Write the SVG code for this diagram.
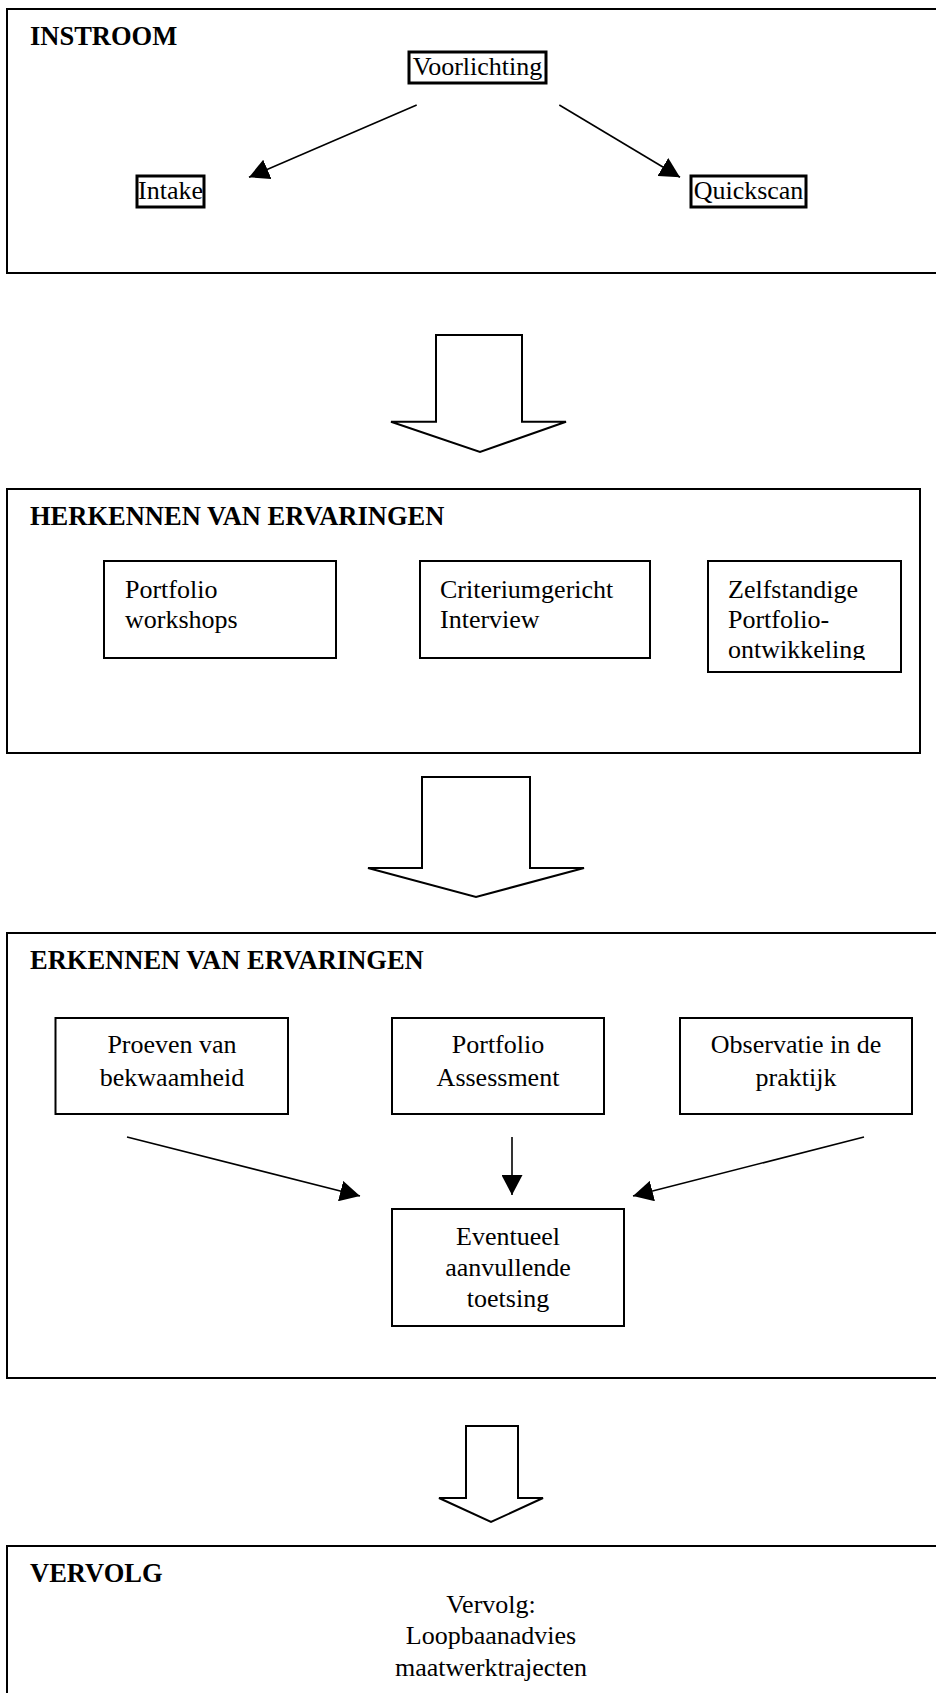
<svg xmlns="http://www.w3.org/2000/svg" width="936" height="1693" viewBox="0 0 936 1693">
<style>
.frame{fill:none;stroke:#000;stroke-width:2}
.box{fill:#fff;stroke:#000;stroke-width:2}
.tbox{fill:#fff;stroke:#000;stroke-width:3}
.title{font-family:"Liberation Serif","Times New Roman",serif;font-weight:bold;font-size:26.5px;fill:#000}
.t{font-family:"Liberation Serif","Times New Roman",serif;font-size:26px;fill:#000}
.c{text-anchor:middle}
.conn{fill:none;stroke:#000;stroke-width:1.6}
.block{fill:#fff;stroke:#000;stroke-width:2;stroke-linejoin:miter}
</style>
<defs>
<marker id="ah" viewBox="0 0 20 21" refX="20" refY="10.5" markerWidth="20" markerHeight="21" markerUnits="userSpaceOnUse" orient="auto">
<path d="M0,0 L20,10.5 L0,21 Z" fill="#000"/>
</marker>
<clipPath id="clipZ"><rect x="708" y="561" width="193" height="99"/></clipPath>
</defs>
<rect width="936" height="1693" fill="#fff"/>

<g id="instroom">
<rect class="frame" x="7" y="9" width="940" height="264"/>
<text class="title" x="30" y="45">INSTROOM</text>
</g>
<g id="voorlichting">
<rect class="tbox" x="409" y="52" width="137" height="31"/>
<text class="t c" x="477.5" y="75">Voorlichting</text>
</g>
<g id="intake">
<rect class="tbox" x="137" y="176" width="67" height="31"/>
<text class="t c" x="170.5" y="199">Intake</text>
</g>
<g id="quickscan">
<rect class="tbox" x="691" y="176" width="115" height="31"/>
<text class="t c" x="748.5" y="199">Quickscan</text>
</g>

<g id="herkennen">
<rect class="frame" x="7" y="489" width="913" height="264"/>
<text class="title" x="30" y="525">HERKENNEN VAN ERVARINGEN</text>
</g>
<g id="portfolio-workshops">
<rect class="box" x="104" y="561" width="232" height="97"/>
<text class="t" x="125" y="598">Portfolio</text>
<text class="t" x="125" y="628">workshops</text>
</g>
<g id="criteriumgericht">
<rect class="box" x="420" y="561" width="230" height="97"/>
<text class="t" x="440" y="598">Criteriumgericht</text>
<text class="t" x="440" y="628">Interview</text>
</g>
<g id="zelfstandige">
<rect class="box" x="708" y="561" width="193" height="111"/>
<g clip-path="url(#clipZ)">
<text class="t" x="728" y="598">Zelfstandige</text>
<text class="t" x="728" y="628">Portfolio-</text>
<text class="t" x="728" y="658">ontwikkeling</text>
</g>
</g>

<g id="erkennen">
<rect class="frame" x="7" y="933" width="940" height="445"/>
<text class="title" x="30" y="969">ERKENNEN VAN ERVARINGEN</text>
</g>
<g id="proeven">
<rect class="box" x="55.5" y="1018" width="232.5" height="96"/>
<text class="t c" x="172" y="1053">Proeven van</text>
<text class="t c" x="172" y="1086">bekwaamheid</text>
</g>
<g id="portfolio-assessment">
<rect class="box" x="392" y="1018" width="212" height="96"/>
<text class="t c" x="498" y="1053">Portfolio</text>
<text class="t c" x="498" y="1086">Assessment</text>
</g>
<g id="observatie">
<rect class="box" x="680" y="1018" width="232" height="96"/>
<text class="t c" x="796" y="1053">Observatie in de</text>
<text class="t c" x="796" y="1086">praktijk</text>
</g>
<g id="eventueel">
<rect class="box" x="392" y="1209" width="232" height="117"/>
<text class="t c" x="508" y="1245">Eventueel</text>
<text class="t c" x="508" y="1276">aanvullende</text>
<text class="t c" x="508" y="1307">toetsing</text>
</g>

<g id="vervolg">
<rect class="frame" x="7" y="1546" width="940" height="160"/>
<text class="title" x="30" y="1582">VERVOLG</text>
<text class="t c" x="491" y="1613">Vervolg:</text>
<text class="t c" x="491" y="1644">Loopbaanadvies</text>
<text class="t c" x="491" y="1676">maatwerktrajecten</text>
</g>

<g id="connectors">
<line class="conn" x1="416.7" y1="105" x2="249" y2="177.3" marker-end="url(#ah)"/>
<line class="conn" x1="559.3" y1="105" x2="680" y2="177.3" marker-end="url(#ah)"/>
<line class="conn" x1="127" y1="1137" x2="360" y2="1196" marker-end="url(#ah)"/>
<line class="conn" x1="512" y1="1137" x2="512" y2="1195" marker-end="url(#ah)"/>
<line class="conn" x1="864" y1="1137" x2="633" y2="1196" marker-end="url(#ah)"/>
<path class="block" d="M436,335 L522,335 L522,421.7 L566,421.7 L480,452 L391,421.7 L436,421.7 Z"/>
<path class="block" d="M422,777 L530,777 L530,868 L584,868 L476,897 L368,868 L422,868 Z"/>
<path class="block" d="M466,1426 L518,1426 L518,1498 L543,1498 L491,1522 L439,1498 L466,1498 Z"/>
</g>
</svg>
